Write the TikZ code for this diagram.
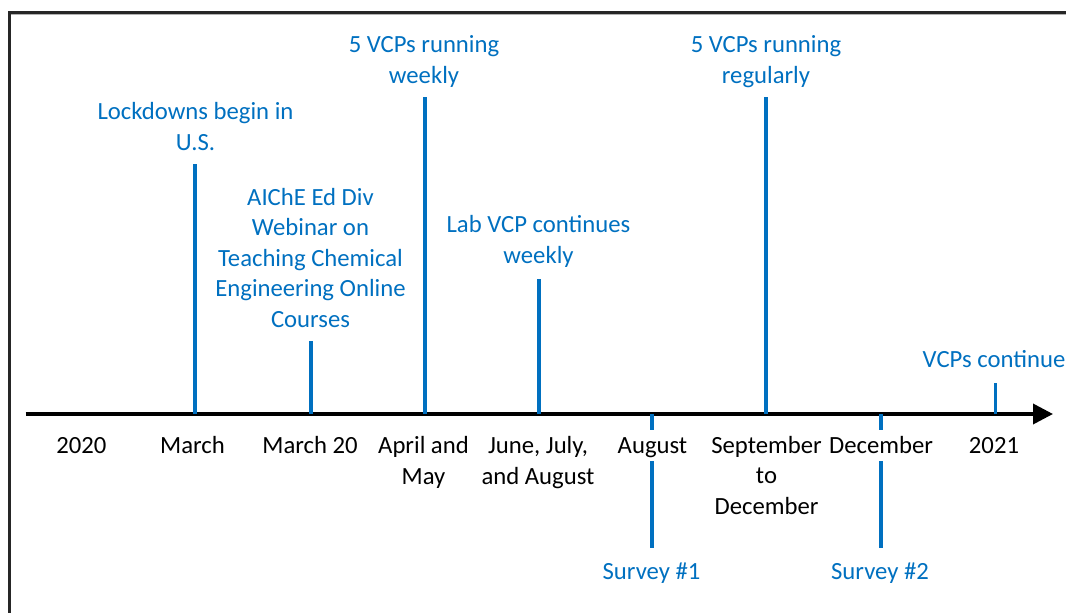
\documentclass[tikz,border=0pt]{standalone}
\usepackage{fontspec}
\setmainfont{Carlito}
\usetikzlibrary{arrows.meta}
\definecolor{vblue}{RGB}{0,112,192}
\definecolor{frame}{RGB}{38,38,38}
\newcommand{\lblfont}{\fontsize{24.7}{30.5}\selectfont}
\begin{document}
\begin{tikzpicture}[x=1pt,y=-1pt,
  lbl/.style={font=\lblfont, align=center, inner sep=0pt, anchor=base},
  toplbl/.style={lbl, text=vblue},
  botlbl/.style={lbl, text=black},
  tick/.style={draw=vblue, line width=3.6pt},
  axisline/.style={draw=black, line width=3.6pt, -{Triangle[length=20pt,width=20pt]}}]
\useasboundingbox (0,0) rectangle (1066,613);
% frame
\draw[line width=3pt, frame] (9.5,613) -- (9.5,12.5) -- (1066,12.5);
\draw[line width=1.2pt, black!30] (11,14.4) -- (1066,14.4);
% axis
\coordinate (axs) at (25.5,414);
\coordinate (axe) at (1053,414);
\draw[axisline] (axs) -- (axe);
% tick coordinates
\coordinate (a1) at (195,414);   \coordinate (b1) at (195,164);
\coordinate (a2) at (310.7,414); \coordinate (b2) at (310.7,341);
\coordinate (a3) at (425,414);   \coordinate (b3) at (425,97);
\coordinate (a4) at (539,414);   \coordinate (b4) at (539,279);
\coordinate (a5) at (652,414);   \coordinate (b5) at (652,430);
\coordinate (c5) at (652,461);   \coordinate (d5) at (652,548);
\coordinate (a6) at (766,414);   \coordinate (b6) at (766,97);
\coordinate (a7) at (881,414);   \coordinate (b7) at (881,430);
\coordinate (c7) at (881,461);   \coordinate (d7) at (881,548);
\coordinate (a8) at (995.3,414); \coordinate (b8) at (995.3,383);
\draw[tick] (a1) -- (b1);
\draw[tick] (a2) -- (b2);
\draw[tick] (a3) -- (b3);
\draw[tick] (a4) -- (b4);
\draw[tick] (a5) -- (b5);
\draw[tick] (c5) -- (d5);
\draw[tick] (a6) -- (b6);
\draw[tick] (a7) -- (b7);
\draw[tick] (c7) -- (d7);
\draw[tick] (a8) -- (b8);
% top labels (anchor = baseline of last line)
\node[toplbl] (e1) at (195.5,150) {Lockdowns begin in\\U.S.};
\node[toplbl] (e2) at (310.5,327) {AIChE Ed Div\\Webinar on\\Teaching Chemical\\Engineering Online\\Courses};
\node[toplbl] (e3) at (424,83) {5 VCPs running\\weekly};
\node[toplbl] (e4) at (538.5,263) {Lab VCP continues\\weekly};
\node[toplbl] (e6) at (766,83) {5 VCPs running\\regularly};
\node[toplbl] (e8) at (994,367) {VCPs continue};
% bottom labels
\node[botlbl] (m0) at (81.3,453) {2020};
\node[botlbl] (m1) at (192.5,453) {March};
\node[botlbl] (m2) at (310,453) {March 20};
\node[botlbl] (m3) at (423.5,484) {April and\\May};
\node[botlbl] (m4) at (538,484) {June, July,\\and August};
\node[botlbl] (m5) at (652.5,453) {August};
\node[botlbl] (m6) at (766.5,514) {September\\to\\December};
\node[botlbl] (m7) at (881,453) {December};
\node[botlbl] (m8) at (994,453) {2021};
% survey labels
\node[toplbl] (s1) at (651.5,579) {Survey \#1};
\node[toplbl] (s2) at (880,579) {Survey \#2};
\end{tikzpicture}
\end{document}
